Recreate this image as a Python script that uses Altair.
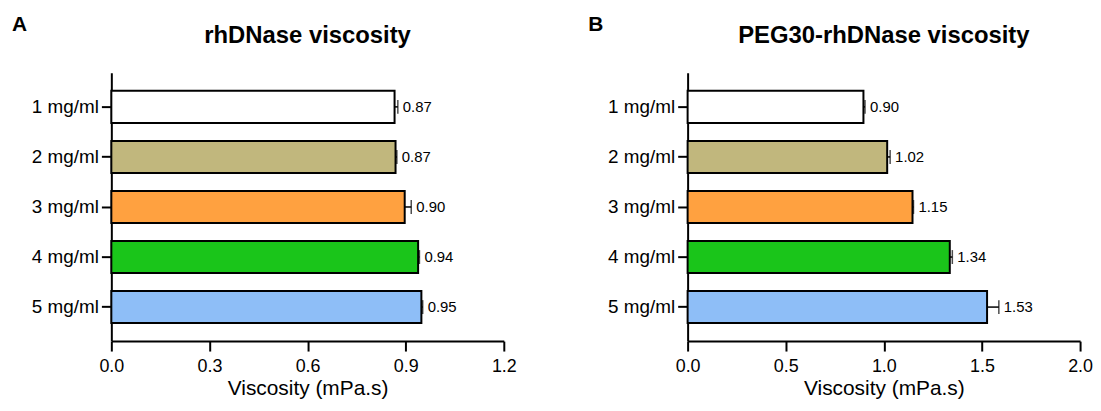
import altair as alt
import pandas as pd

categories = ["1 mg/ml", "2 mg/ml", "3 mg/ml", "4 mg/ml", "5 mg/ml"]
bar_colors = ["#FFFFFF", "#C1B77D", "#FFA140", "#1AC51A", "#8EBEF7"]

left_title = "rhDNase viscosity"
left_letter = "A"
left_values = [0.866, 0.869, 0.897, 0.938, 0.948]
left_errors = [0.010, 0.004, 0.020, 0.004, 0.004]
left_ticks = [0.0, 0.3, 0.6, 0.9, 1.2]

right_title = "PEG30-rhDNase viscosity"
right_letter = "B"
right_values = [0.896, 1.017, 1.146, 1.336, 1.526]
right_errors = [0.008, 0.015, 0.005, 0.013, 0.060]
right_ticks = [0.0, 0.5, 1.0, 1.5, 2.0]

FONT = "Liberation Sans"
W, H = 395, 270


def panel(values, errors, ticks, title, letter):
    df = pd.DataFrame({"cat": categories, "value": values, "err": errors})
    df["hi"] = df["value"] + df["err"]
    df["label"] = [f"{v:.2f}" for v in values]

    xscale = alt.Scale(domain=[ticks[0], ticks[-1]], nice=False, zero=True)
    yscale = alt.Scale(domain=categories, paddingInner=0.36, paddingOuter=0.36)
    xaxis = alt.Axis(
        values=ticks, format=".1f", grid=False, domainColor="black", domainWidth=2,
        tickColor="black", tickWidth=2, tickSize=10, labelFontSize=18,
        labelColor="black", labelFont=FONT, labelPadding=7, labelFlush=False,
        title="Viscosity (mPa.s)", titleFont=FONT, titleFontSize=21,
        titleFontWeight="normal", titleColor="black", titlePadding=2,
    )
    yaxis = alt.Axis(
        title=None, domainColor="black", domainWidth=2, tickColor="black",
        tickWidth=2, tickSize=10, labelFontSize=19, labelColor="black",
        labelFont=FONT, labelPadding=3,
    )

    base = alt.Chart(df)
    bars = base.mark_bar(stroke="black", strokeWidth=2).encode(
        x=alt.X("value:Q", scale=xscale, axis=xaxis),
        y=alt.Y("cat:N", scale=yscale, axis=yaxis, sort=categories),
        fill=alt.Fill("cat:N", scale=alt.Scale(domain=categories, range=bar_colors), legend=None),
    )
    rule = base.mark_rule(color="black", strokeWidth=1.5).encode(
        x="value:Q", x2="hi:Q", y=alt.Y("cat:N", sort=categories)
    )
    cap = base.mark_tick(color="black", thickness=1.5, size=14, orient="vertical").encode(
        x="hi:Q", y=alt.Y("cat:N", sort=categories)
    )
    labels = base.mark_text(align="left", baseline="middle", dx=5, fontSize=15,
                            font=FONT, color="black").encode(
        x="hi:Q", y=alt.Y("cat:N", sort=categories), text="label:N"
    )
    letter_txt = alt.Chart(pd.DataFrame({"t": [letter]})).mark_text(
        align="left", baseline="alphabetic", fontSize=21, fontWeight="bold", font=FONT, color="black"
    ).encode(x=alt.value(-100), y=alt.value(-42), text="t:N")
    title_txt = alt.Chart(pd.DataFrame({"t": [title]})).mark_text(
        align="center", baseline="alphabetic", fontSize=24, fontWeight="bold", font=FONT, color="black"
    ).encode(x=alt.value(W / 2), y=alt.value(-30), text="t:N")

    return alt.layer(bars, rule, cap, labels, letter_txt, title_txt).properties(width=W, height=H)


left = panel(left_values, left_errors, left_ticks, left_title, left_letter)
right = panel(right_values, right_errors, right_ticks, right_title, right_letter)

chart = alt.hconcat(left, right, spacing=185, bounds="flush").resolve_scale(
    x="independent", y="independent", fill="independent"
).properties(
    padding={"left": 4, "top": 5, "right": 0, "bottom": 0}, background="white"
).configure_view(strokeWidth=0)

chart.save("out.html", embed_options={"renderer": "svg", "actions": False})
